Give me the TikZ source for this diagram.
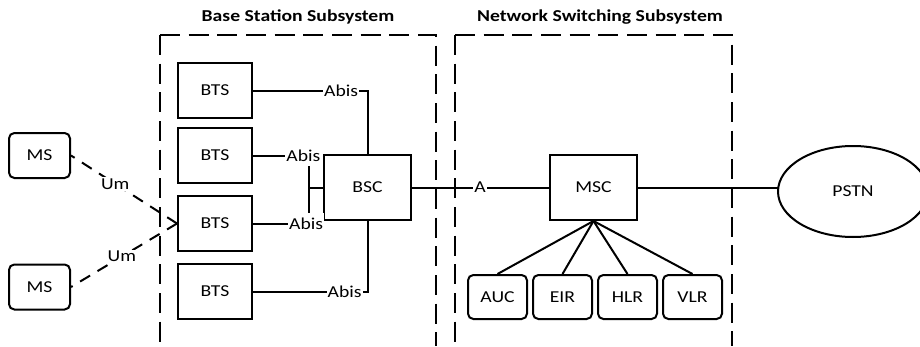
\documentclass[tikz,border=0pt]{standalone}
\usepackage{fontspec}
\setmainfont{Carlito}[FakeStretch=1.18]
\usetikzlibrary{shapes.geometric}
\begin{document}
\begin{tikzpicture}[x=0.75pt,y=-0.75pt,
  every node/.style={font=\fontsize{12.5pt}{14pt}\selectfont},
  box/.style={draw,line width=1.5pt,inner sep=0pt},
  btsbox/.style={box,minimum width=55.5pt,minimum height=41.25pt},
  ctrlbox/.style={box,minimum width=65.25pt,minimum height=48.75pt},
  msbox/.style={box,rounded corners=4pt,minimum width=45.75pt,minimum height=33.75pt},
  regbox/.style={box,rounded corners=4pt,minimum width=44.25pt,minimum height=33pt},
  conn/.style={line width=1.5pt},
  radio/.style={line width=1.5pt,dash pattern=on 8.7pt off 6.5pt},
  lbl/.style={fill=white,inner xsep=0.8pt,inner ysep=1pt},
  lblv/.style={fill=white,inner xsep=0.8pt,inner ysep=3.5pt},
  lblu/.style={fill=white,inner xsep=2pt,inner ysep=1pt},
  region/.style={line width=1.5pt,dash pattern=on 15pt off 6.5pt},
  title/.style={font=\fontsize{12.5pt}{15pt}\selectfont\bfseries}
]
\useasboundingbox (0,0) rectangle (920,346);

% subsystem frames
\draw[region] (160,35) -- (160,346);
\draw[region] (160,35) -- (436,35) -- (436,346);
\draw[region] (455,35) -- (455,346);
\draw[region] (455,35) -- (732,35) -- (732,346);
\node[title] (tbss) at (298,17) {Base Station Subsystem};
\node[title] (tnss) at (600,17) {Network Switching Subsystem};

% nodes
\node[btsbox] (BTS1) at (215,90.5) {BTS};
\node[btsbox] (BTS2) at (215,155.5) {BTS};
\node[btsbox] (BTS3) at (215,223.5) {BTS};
\node[btsbox] (BTS4) at (215,291.5) {BTS};
\node[ctrlbox] (BSC) at (367.5,187.5) {BSC};
\node[ctrlbox] (MSC) at (593.5,187.5) {MSC};
\node[msbox] (MS1) at (39.5,155.5) {MS};
\node[msbox] (MS2) at (39.5,287) {MS};
\node[regbox] (AUC) at (497.5,297) {AUC};
\node[regbox] (EIR) at (562.5,297) {EIR};
\node[regbox] (HLR) at (627.5,297) {HLR};
\node[regbox] (VLR) at (692.5,297) {VLR};
\node[box,ellipse,outer sep=0pt,minimum width=112.5pt,minimum height=68.25pt] (PSTN) at (853,191.5) {PSTN};

% connectors
\draw[conn] (BTS1.east) -| (BSC.north) node[lbl,pos=0.385] {Abis};
\draw[conn] (BTS2.east) -- ++(56,0) node[lblv,pos=0.9] {Abis} |- (BSC.west);
\draw[conn] (BTS3.east) -- ++(56,0) node[lblv,pos=0.95] {Abis} |- (BSC.west);
\draw[conn] (BTS4.east) -| (BSC.south) node[lbl,pos=0.40] {Abis};
\draw[conn] (BSC.east) -- (MSC.west) node[lbl,pos=0.496] {A};
\draw[conn] (MSC.east) -- (MSC.east -| PSTN.west);
\foreach \r in {AUC,EIR,HLR,VLR}
  \draw[conn] (MSC.south) -- (\r.north);
\draw[radio] (BTS3.west) -- (MS1.east) node[lblu,pos=0.583] {Um};
\draw[radio] (BTS3.west) -- (MS2.east) node[lblu,pos=0.52] {Um};
\end{tikzpicture}
\end{document}
